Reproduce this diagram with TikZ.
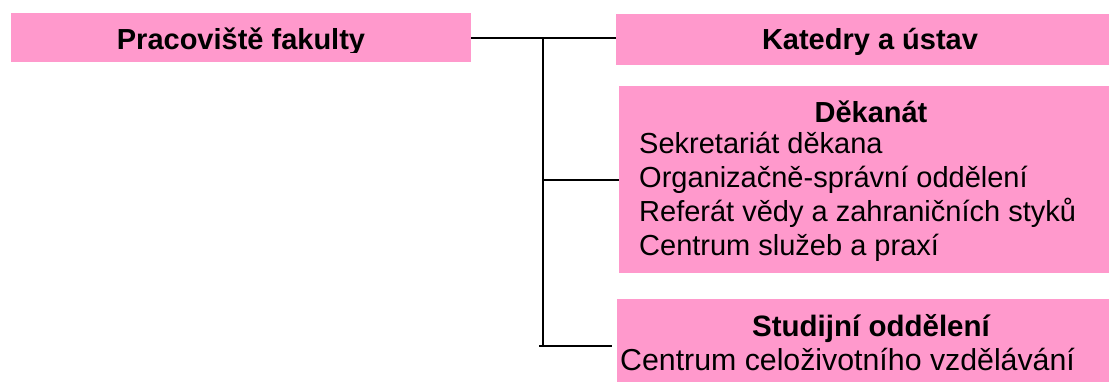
\documentclass[tikz,border=0pt]{standalone}
\usepackage{fontspec}
\setmainfont{Liberation Sans}
\definecolor{boxpink}{HTML}{FF99CC}
\begin{document}
\begin{tikzpicture}[x=1pt,y=-1pt,
  box/.style={fill=boxpink, draw=none, inner sep=0pt, anchor=north west},
  txt/.style={inner sep=0pt, font=\fontsize{29}{33}\selectfont},
  btxt/.style={txt, font=\fontsize{29}{33}\selectfont\bfseries},
  conn/.style={line width=2pt, black}]
\useasboundingbox (0,0) rectangle (1109,382);
% boxes
\node[box, minimum width=460pt, minimum height=49pt] (prac) at (11,13) {};
\node[box, minimum width=493pt, minimum height=51pt] (kat) at (616,14) {};
\node[box, minimum width=490pt, minimum height=187pt] (dek) at (619,86) {};
\node[box, minimum width=492pt, minimum height=83pt] (stud) at (617,299) {};
% texts
\begin{scope}
  \clip (11,13) rectangle (471,52.5);
  \node[btxt, anchor=base] (pracT) at (241,49.5) {Pracoviště fakulty};
\end{scope}
\node[btxt, anchor=base] (katT) at (870,49.5) {Katedry a ústav};
\node[btxt, anchor=base] (dekT) at (871,123) {Děkanát};
\node[txt, anchor=base west] (d1) at (639,154) {Sekretariát děkana};
\node[txt, anchor=base west] (d2) at (639,188) {Organizačně-správní oddělení};
\node[txt, anchor=base west] (d3) at (639,222) {Referát vědy a zahraničních styků};
\node[txt, anchor=base west] (d4) at (639,256) {Centrum služeb a praxí};
\node[btxt, anchor=base, font=\fontsize{29.5}{33}\selectfont\bfseries] (studT) at (871,336.5) {Studijní oddělení};
\node[txt, anchor=base west, font=\fontsize{30.3}{33}\selectfont] (s1) at (620,370) {Centrum celoživotního vzdělávání};
% connectors
\coordinate (jtop) at (543,37.5);
\coordinate (jbot) at (543,346);
\coordinate (sl) at (539,346);
\coordinate (sr) at (612,346);
\draw[conn] (prac.east) -- (prac.east -| kat.west);
\draw[conn] (jtop) -- (jbot);
\draw[conn] (jtop |- dek.west) -- (dek.west);
\draw[conn] (sl) -- (sr);
\end{tikzpicture}
\end{document}
